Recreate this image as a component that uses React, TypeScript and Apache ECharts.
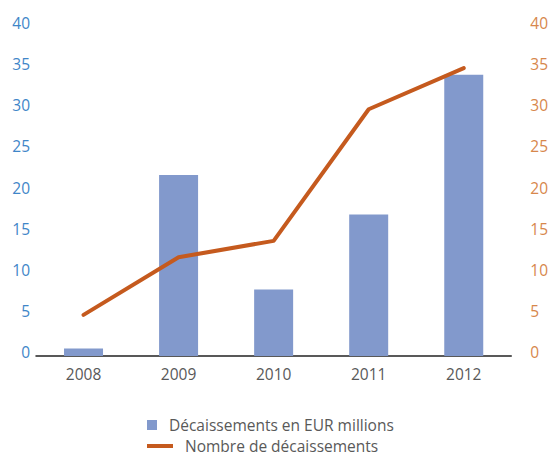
import React, { useEffect, useRef } from "react";
import * as echarts from "echarts";

const categories = ["2008", "2009", "2010", "2011", "2012"];
const amounts = [0.9, 22.0, 8.1, 17.2, 34.2];
const counts = [5, 12, 14, 30, 35];
const leftTicks = { min: 0, max: 40, interval: 5 };
const rightTicks = { min: 0, max: 40, interval: 5 };
const barName = "Décaissements en EUR millions";
const lineName = "Nombre de décaissements";

const FONT = "'Open Sans', 'Noto Sans', sans-serif";

export default function App() {
  const ref = useRef<HTMLDivElement>(null);
  useEffect(() => {
    if (!ref.current) return;
    const chart = echarts.init(ref.current, undefined, { renderer: "svg" });
    chart.setOption({
      animation: false,
      textStyle: { fontFamily: FONT },
      grid: { left: 36, right: 39, top: 27, bottom: 101 },
      legend: [
        {
          data: [barName],
          left: 142,
          top: 412,
          orient: "vertical",
          itemWidth: 10,
          itemHeight: 10,
          icon: "rect",
          textStyle: { color: "#595959", fontSize: 15.5, lineHeight: 16, fontFamily: FONT, padding: [0, 0, 0, 7] },
        },
        {
          data: [lineName],
          left: 142,
          top: 433,
          orient: "vertical",
          itemWidth: 26,
          itemHeight: 4,
          icon: "rect",
          textStyle: { color: "#595959", fontSize: 15.5, lineHeight: 16, fontFamily: FONT, padding: [0, 0, 0, 7] },
        },
      ],
      xAxis: {
        type: "category",
        data: categories,
        axisLine: { lineStyle: { color: "#222", width: 1.5 } },
        axisTick: { show: false },
        axisLabel: { color: "#595959", fontSize: 15.5, margin: 10, fontFamily: FONT },
      },
      yAxis: [
        {
          type: "value",
          ...leftTicks,
          splitLine: { show: false },
          axisLine: { show: false },
          axisTick: { show: false },
          axisLabel: {
            margin: 6,
            formatter: "{a|{value}}",
            rich: { a: { color: "#3f86c8", fontSize: 15.5, fontFamily: FONT, padding: [0, 0, 8, 0] } },
          },
        },
        {
          type: "value",
          position: "right",
          ...rightTicks,
          splitLine: { show: false },
          axisLine: { show: false },
          axisTick: { show: false },
          axisLabel: {
            margin: 19,
            formatter: "{a|{value}}",
            rich: { a: { color: "#d7874c", fontSize: 15.5, fontFamily: FONT, padding: [0, 0, 8, 0] } },
          },
        },
      ],
      series: [
        {
          name: barName,
          type: "bar",
          data: amounts,
          yAxisIndex: 0,
          barWidth: 39,
          itemStyle: { color: "#8299cc" },
        },
        {
          name: lineName,
          type: "line",
          data: counts,
          yAxisIndex: 1,
          symbol: "none",
          itemStyle: { color: "#c55a1e" },
          lineStyle: { color: "#c55a1e", width: 4, cap: "round", join: "round" },
        },
      ],
    });
    return () => chart.dispose();
  }, []);
  return <div ref={ref} style={{ width: 551, height: 457, position: "absolute", left: 0, top: 0 }} />;
}
